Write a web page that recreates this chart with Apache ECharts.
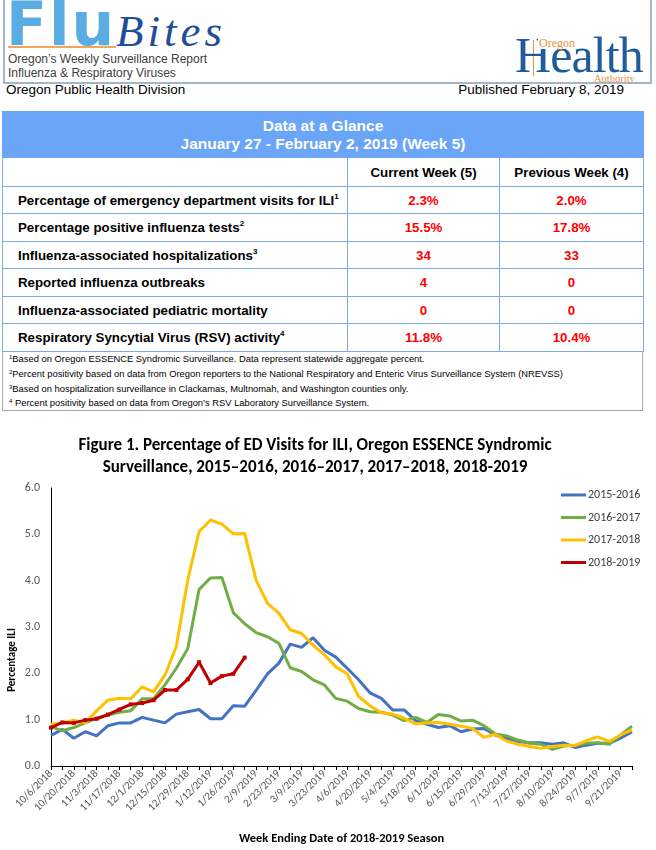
<!DOCTYPE html>
<html><head><meta charset="utf-8">
<script src="https://cdn.jsdelivr.net/npm/echarts@6/dist/echarts.min.js"></script>
<style>
html,body{margin:0;padding:0;background:#fff;}
#page{position:relative;width:656px;height:850px;overflow:hidden;font-family:'Liberation Sans',Arial,sans-serif;color:#000;}
.abs{position:absolute;white-space:nowrap;}
table.glance{position:absolute;left:2px;top:111px;width:641px;border-collapse:collapse;table-layout:fixed;font-family:'Liberation Sans',Arial,sans-serif;}
table.glance td{border:1px solid #7fa9e6;padding:0;font-weight:bold;font-size:13.3px;white-space:nowrap;}
table.glance td.lbl{padding-left:15px;text-align:left;}
table.glance td.val{text-align:center;color:#ff0000;}
table.glance td.hd{text-align:center;}
table.glance sup{font-size:8px;vertical-align:6px;line-height:0;}
.fn{position:absolute;left:2px;top:351px;width:639px;height:58px;border:1px solid #a6a6a6;border-top:none;font-size:9.4px;line-height:14.8px;color:#000;padding-top:1px;}
.fn div{padding-left:6px;white-space:nowrap;}
.fn sup{font-size:6px;vertical-align:3px;line-height:0;}
#chart{position:absolute;left:0;top:420px;width:656px;height:430px;}
</style></head><body>
<div id="page">
  <div class="abs" style="left:3px;top:-3px;width:645px;height:83px;border:2px solid #a3b6c9;"></div>
  <div class="abs" style="left:6px;top:-5px;font:bold 60px/59px 'DejaVu Sans',sans-serif;color:#5aade2;letter-spacing:2px;">Flu</div>
  <div class="abs" style="left:8px;top:46px;width:108px;height:2px;background:#f2a65a;"></div>
  <div class="abs" style="left:116px;top:9px;font:italic 45px/45px 'Liberation Serif',serif;color:#1f4e9a;letter-spacing:4px;">Bites</div>
  <div class="abs" style="left:8px;top:52px;font-size:12px;line-height:14px;color:#404040;">Oregon’s Weekly Surveillance Report</div>
  <div class="abs" style="left:8px;top:66px;font-size:12px;line-height:14px;color:#404040;">Influenza &amp; Respiratory Viruses</div>
  <div class="abs" style="left:533px;top:40px;width:1px;height:36px;background:#e8923a;"></div>
  <div class="abs" style="left:515px;top:30px;font:50px/50px 'Liberation Serif',serif;color:#1f5c99;letter-spacing:-0.9px;">Health</div>
  <div class="abs" style="left:538px;top:37px;font:12px/12px 'Liberation Serif',serif;color:#e8923a;background:#fff;padding:0 1px;">Oregon</div>
  <div class="abs" style="left:594px;top:73px;font:10.5px/12px 'Liberation Serif',serif;color:#e8923a;">Authority</div>
  <div class="abs" style="left:6px;top:82px;font-size:13.5px;line-height:16px;">Oregon Public Health Division</div>
  <div class="abs" style="right:32px;top:82px;font-size:13.5px;line-height:16px;">Published February 8, 2019</div>

  <table class="glance">
    <colgroup><col style="width:345px"><col style="width:152px"><col style="width:144px"></colgroup>
    <tr style="height:46px"><td colspan="3" style="background:#6aa5f8;color:#fff;text-align:center;font-size:15.5px;line-height:18px;border-color:#6aa5f8;">Data at a Glance<br>January 27 - February 2, 2019 (Week 5)</td></tr>
    <tr style="height:29px"><td></td><td class="hd">Current Week (5)</td><td class="hd">Previous Week (4)</td></tr>
    <tr style="height:27px"><td class="lbl">Percentage of emergency department visits for ILI<sup>1</sup></td><td class="val">2.3%</td><td class="val">2.0%</td></tr>
    <tr style="height:28px"><td class="lbl">Percentage positive influenza tests<sup>2</sup></td><td class="val">15.5%</td><td class="val">17.8%</td></tr>
    <tr style="height:27px"><td class="lbl">Influenza-associated hospitalizations<sup>3</sup></td><td class="val">34</td><td class="val">33</td></tr>
    <tr style="height:28px"><td class="lbl">Reported influenza outbreaks</td><td class="val">4</td><td class="val">0</td></tr>
    <tr style="height:27px"><td class="lbl">Influenza-associated pediatric mortality</td><td class="val">0</td><td class="val">0</td></tr>
    <tr style="height:28px"><td class="lbl">Respiratory Syncytial Virus (RSV) activity<sup>4</sup></td><td class="val">11.8%</td><td class="val">10.4%</td></tr>
  </table>
  <div class="fn">
    <div><sup>1</sup>Based on Oregon ESSENCE Syndromic Surveillance. Data represent statewide aggregate percent.</div>
    <div><sup>2</sup>Percent positivity based on data from Oregon reporters to the National Respiratory and Enteric Virus Surveillance System (NREVSS)</div>
    <div><sup>3</sup>Based on hospitalization surveillance in Clackamas, Multnomah, and Washington counties only.</div>
    <div><sup>4</sup> Percent positivity based on data from Oregon’s RSV Laboratory Surveillance System.</div>
  </div>
  <div id="chart"></div>
</div>
<script>
var weeks = ['10/6/2018','10/13/2018','10/20/2018','10/27/2018','11/3/2018','11/10/2018','11/17/2018','11/24/2018',
 '12/1/2018','12/8/2018','12/15/2018','12/22/2018','12/29/2018','1/5/2019','1/12/2019','1/19/2019','1/26/2019','2/2/2019',
 '2/9/2019','2/16/2019','2/23/2019','3/2/2019','3/9/2019','3/16/2019','3/23/2019','3/30/2019','4/6/2019','4/13/2019',
 '4/20/2019','4/27/2019','5/4/2019','5/11/2019','5/18/2019','5/25/2019','6/1/2019','6/8/2019','6/15/2019','6/22/2019',
 '6/29/2019','7/6/2019','7/13/2019','7/20/2019','7/27/2019','8/3/2019','8/10/2019','8/17/2019','8/24/2019','8/31/2019',
 '9/7/2019','9/14/2019','9/21/2019','9/28/2019'];
var seasonNames = ['2015-2016','2016-2017','2017-2018','2018-2019'];
var s2015 = [0.66,0.79,0.60,0.74,0.65,0.87,0.93,0.93,1.05,0.99,0.93,1.12,1.17,1.22,1.02,1.02,1.30,1.29,
 1.63,1.99,2.22,2.63,2.56,2.77,2.50,2.35,2.11,1.86,1.58,1.46,1.21,1.21,0.98,
 0.90,0.83,0.87,0.74,0.80,0.81,0.67,0.60,0.53,0.50,0.50,0.47,0.50,0.40,0.45,0.49,0.49,0.60,0.74];
var s2016 = [0.85,0.76,0.83,0.93,1.03,1.10,1.16,1.19,1.45,1.45,1.75,2.11,2.53,3.81,4.06,4.07,3.31,3.07,
 2.88,2.79,2.65,2.12,2.04,1.86,1.75,1.46,1.40,1.24,1.17,1.16,1.10,0.98,1.05,
 0.94,1.11,1.08,0.97,0.99,0.87,0.69,0.65,0.56,0.49,0.47,0.36,0.43,0.45,0.49,0.50,0.47,0.67,0.86];
var s2017 = [0.90,0.93,0.99,0.93,1.19,1.42,1.46,1.45,1.71,1.60,1.96,2.58,4.01,5.06,5.31,5.22,5.01,5.02,
 4.01,3.51,3.30,2.94,2.86,2.61,2.40,2.14,1.99,1.50,1.30,1.15,1.12,1.03,0.91,
 0.93,0.94,0.90,0.86,0.81,0.62,0.68,0.54,0.47,0.42,0.38,0.42,0.45,0.44,0.55,0.63,0.53,0.67,0.78];
var s2018 = [0.83,0.94,0.93,0.99,1.02,1.11,1.22,1.33,1.36,1.42,1.64,1.64,1.87,2.24,1.79,1.94,1.99,2.34];
var colors = ['#4472c4','#70ad47','#ffc000','#c00000'];
var titleLines = ['Figure 1. Percentage of ED Visits for ILI, Oregon ESSENCE Syndromic',
 'Surveillance, 2015–2016, 2016–2017, 2017–2018, 2018-2019'];
var yTitle = 'Percentage ILI';
var xTitle = 'Week Ending Date of 2018-2019 Season';

var FONT = "Carlito, Lato, 'Open Sans', sans-serif";
var chart = echarts.init(document.getElementById('chart'), null, {renderer:'canvas'});
var allData = [s2015, s2016, s2017, s2018];
var series = seasonNames.map(function(n, i){
  var red = i === 3;
  return {
    name: n, type: 'line', data: allData[i],
    showSymbol: red, symbol: 'rect', symbolSize: 4,
    itemStyle: {color: colors[i]},
    lineStyle: {color: colors[i], width: 3},
    z: 2 + i
  };
});
chart.setOption({
  animation: false,
  textStyle: {fontFamily: FONT},
  title: {
    text: titleLines.join('\n'), left: 310, textAlign: 'center', top: 10,
    textStyle: {fontFamily: FONT, fontSize: 17, fontWeight: 'bold', color: '#000', lineHeight: 22}
  },
  legend: {
    orient: 'vertical', left: 556, top: 63, itemWidth: 25, itemHeight: 3, itemGap: 8.5,
    icon: 'rect', data: seasonNames,
    textStyle: {fontFamily: FONT, fontSize: 12, color: '#404040', lineHeight: 14, padding: [0,0,0,-3]}
  },
  grid: {left: 51, right: 24, top: 68, bottom: 84, containLabel: false},
  xAxis: {
    type: 'category', data: weeks, boundaryGap: false,
    axisLine: {lineStyle: {color: '#000', width: 1}},
    axisTick: {show: true, interval: 0, length: 4, lineStyle: {color: '#000'}},
    axisLabel: {interval: 1, rotate: 45, fontSize: 11, color: '#595959', margin: 6, fontFamily: FONT},
    name: xTitle, nameLocation: 'middle', nameGap: 66,
    nameTextStyle: {fontFamily: FONT, fontSize: 12.5, fontWeight: 'bold', color: '#000'},
    splitLine: {show: false}
  },
  yAxis: {
    type: 'value', min: 0, max: 6, interval: 1,
    axisLine: {show: true, lineStyle: {color: '#000', width: 1}},
    axisTick: {show: false},
    axisLabel: {formatter: function(v){return v.toFixed(1);}, fontSize: 12, color: '#595959', margin: 11, fontFamily: FONT},
    splitLine: {show: false}
  },
  graphic: [{
    type: 'text', x: 12, y: 240, rotation: Math.PI / 2,
    style: {text: yTitle, fontFamily: FONT, fontSize: 11, fontWeight: 'bold', fill: '#000', align: 'center', verticalAlign: 'middle'}
  }],
  series: series
});
</script>
</body></html>
